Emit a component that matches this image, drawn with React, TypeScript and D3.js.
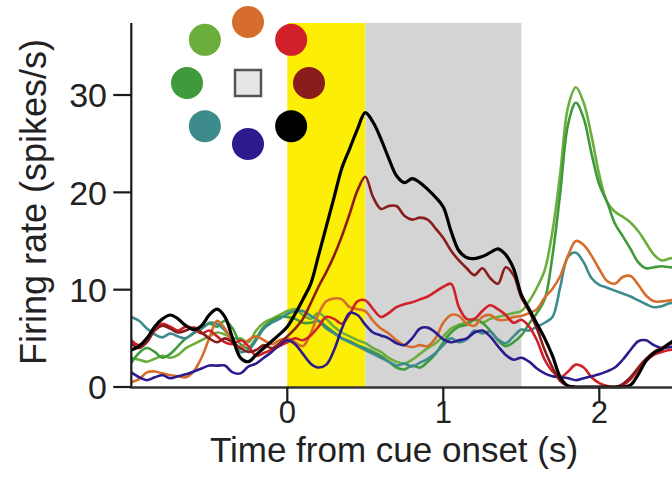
import React from "react";
import * as d3 from "d3";

// time axis (s), one sample every 50 ms
const TIME = [
  -1.0, -0.95, -0.9, -0.85, -0.8, -0.75, -0.7, -0.65, -0.6, -0.55,
  -0.5, -0.45, -0.4, -0.35, -0.3, -0.25, -0.2, -0.15, -0.1, -0.05,
  0.0, 0.05, 0.1, 0.15, 0.2, 0.25, 0.3, 0.35, 0.4, 0.45,
  0.5, 0.55, 0.6, 0.65, 0.7, 0.75, 0.8, 0.85, 0.9, 0.95,
  1.0, 1.05, 1.1, 1.15, 1.2, 1.25, 1.3, 1.35, 1.4, 1.45,
  1.5, 1.55, 1.6, 1.65, 1.7, 1.75, 1.8, 1.85, 1.9, 1.95,
  2.0, 2.05, 2.1, 2.15, 2.2, 2.25, 2.3, 2.35, 2.4, 2.45,
  2.5,
];

const FR_LIGHTGREEN = [
  3.0, 2.8, 2.6, 2.9, 3.2, 3.0, 3.3, 4.0, 4.4, 4.8,
  5.2, 5.6, 5.4, 5.0, 5.0, 4.6, 5.8, 6.6, 7.0, 7.4,
  7.8, 8.0, 7.4, 7.0, 7.6, 7.0, 6.2, 5.6, 5.2, 4.8,
  4.5, 4.0, 3.6, 3.0, 2.6, 2.4, 2.8, 3.4, 4.0, 4.5,
  5.2, 6.0, 6.4, 6.6, 7.0, 6.6, 7.0, 7.2, 7.4, 7.6,
  7.8, 8.8, 10.2, 12.0, 16.0, 22.0, 28.8, 30.8, 29.2, 25.8,
  21.8, 19.0, 18.0, 17.5, 16.9, 16.0, 14.8, 13.6, 13.0, 13.2,
  13.3,
];

const FR_GREEN = [
  2.5, 3.5, 4.0, 3.6, 3.0, 3.4, 4.2, 5.0, 5.5, 6.0,
  6.5, 6.2, 6.8, 6.0, 4.4, 4.0, 5.0, 6.2, 6.8, 7.2,
  7.2, 7.0, 6.6, 6.6, 6.8, 6.2, 5.6, 5.0, 4.7, 4.3,
  4.0, 3.6, 3.2, 2.6, 2.0, 1.8, 2.2, 2.0, 2.6, 3.4,
  4.6, 5.6, 6.2, 6.4, 6.9, 6.6, 5.8, 4.8, 4.2, 4.6,
  5.3, 6.5, 7.6, 9.0, 13.5, 20.0, 27.0, 29.2, 27.6, 24.0,
  20.8, 19.0, 16.8, 15.5, 14.2, 12.8, 12.2, 12.3, 12.4, 12.3,
  12.3,
];

const FR_TEAL = [
  7.2, 6.8, 6.0, 5.4, 5.1, 5.5, 5.2, 5.0, 5.6, 6.0,
  6.6, 6.5, 5.8, 5.0, 3.6, 3.8, 4.8, 6.0, 6.6, 7.0,
  7.5, 7.8, 7.8, 7.3, 6.8, 6.0, 5.5, 5.0, 4.6, 4.2,
  3.8, 3.4, 3.0, 2.6, 2.2, 2.4, 2.1, 2.5, 2.9, 3.5,
  4.3, 5.0, 4.6, 4.9, 5.8, 5.5, 5.7, 4.9, 4.5, 5.2,
  5.9, 5.8, 6.2, 6.6, 7.2, 10.3, 13.4, 13.8, 12.8, 11.2,
  10.5, 10.2, 9.9, 9.6, 9.3, 8.9, 8.5, 8.2, 8.3, 8.6,
  8.7,
];

const FR_ORANGE = [
  0.5, 0.8, 1.5, 1.6, 1.4, 1.2, 1.1, 1.0, 1.6, 3.0,
  5.0, 6.8, 6.0, 4.5, 4.0, 4.8, 5.2, 4.8, 4.4, 4.8,
  5.0, 4.6, 4.2, 5.5, 7.5, 8.8, 9.1, 9.0, 8.2, 8.0,
  7.8, 6.8, 6.0, 5.5, 4.8, 4.3, 4.1, 4.3, 4.2, 5.0,
  6.6, 7.4, 7.3, 6.5, 6.3, 7.2, 7.4, 6.9, 6.9, 7.2,
  7.3, 7.6, 8.0, 9.2, 10.1, 11.4, 13.5, 15.0, 14.6, 13.5,
  12.1, 10.9, 10.6, 11.3, 11.4, 10.5, 9.4, 8.8, 8.8, 8.9,
  9.0,
];

const FR_RED = [
  4.8, 4.3, 5.0, 6.0, 6.5, 6.2, 5.8, 6.2, 6.0, 5.5,
  5.8, 5.2, 4.6, 4.4, 4.8, 4.2, 3.2, 3.5, 3.8, 4.2,
  4.6, 5.0, 4.8, 5.3, 6.2, 7.2, 7.0, 6.5, 7.5, 8.8,
  8.9, 8.0, 7.2, 7.6, 8.2, 8.5, 8.7, 9.0, 9.3, 9.8,
  10.3, 10.6, 8.2, 7.0, 7.0, 7.8, 8.4, 8.0, 7.4, 6.6,
  6.9, 6.2, 4.8, 2.8, 1.6, 1.0, 1.6, 2.3, 2.0, 1.0,
  0.4, 0.1, 0.0, 0.2, 0.8, 1.8, 2.7, 3.3, 3.6, 3.8,
  3.9,
];

const FR_NAVY = [
  1.5, 1.0, 0.7, 1.0, 1.2, 0.9, 1.1, 1.3, 1.6, 1.9,
  2.2, 2.2, 2.2, 1.5, 1.4, 2.1, 2.4, 3.0, 3.6, 4.3,
  4.8, 4.4, 3.4, 2.4, 2.0, 2.3, 3.8, 6.0, 7.6, 7.4,
  6.4, 5.6, 5.3, 5.0, 4.5, 4.3, 5.0, 6.0, 6.1, 5.6,
  4.9, 4.6, 4.8, 5.0, 5.6, 5.8, 5.2, 4.2, 3.3, 2.8,
  3.0, 2.6, 1.9, 1.4, 1.1, 1.0, 0.9, 0.7, 0.9, 1.1,
  1.3, 1.6, 2.0, 2.8, 3.8, 4.7, 4.8, 4.3, 4.0, 4.1,
  4.2,
];

const FR_MAROON = [
  4.5, 4.0, 4.6, 5.8, 6.3, 6.0, 5.6, 5.8, 6.1, 5.6,
  5.0, 4.6, 5.0, 4.6, 4.0, 3.6, 3.8, 4.3, 4.0, 4.5,
  5.2, 6.0, 7.0, 8.6, 10.3, 11.8, 13.5, 15.5, 17.8, 20.2,
  21.6, 19.5, 18.3, 18.6, 18.6, 17.6, 17.2, 17.4, 17.2, 16.3,
  15.3, 14.0, 13.0, 12.2, 11.5, 12.2, 11.2, 10.6, 12.3, 11.5,
  9.2, 7.8, 6.0, 3.8, 2.0, 0.6, 0.1, 0.0, 0.0, 0.0,
  0.0, 0.0, 0.0, 0.3, 1.0, 2.0, 2.9, 3.6, 4.0, 4.4,
  4.6,
];

const FR_BLACK = [
  3.8, 4.2, 5.0, 6.2, 7.0, 7.4, 7.0, 6.3, 5.9, 6.3,
  7.4, 8.0, 7.2, 5.0, 3.0, 2.6, 3.3, 4.0, 4.7, 5.4,
  6.2, 7.5, 9.0, 10.6, 13.5, 16.5, 19.5, 22.5, 24.5, 26.5,
  28.2, 27.2, 25.5, 23.5, 21.7, 21.0, 21.4, 21.0, 20.3, 19.5,
  18.5, 16.0, 14.0, 13.3, 13.2, 13.4, 13.8, 14.2, 13.6, 12.2,
  9.5, 8.0, 6.5, 5.0, 3.2, 1.0, 0.1, 0.0, 0.0, 0.0,
  0.0, 0.0, 0.0, 0.0, 0.2, 1.3, 2.7, 3.5, 3.9, 4.5,
  5.0,
];

const SERIES_NAMES = ["lightgreen", "green", "teal", "orange", "red", "navy", "maroon", "black"];
const SERIES_COLORS = ["#6cae3c", "#3e9a3a", "#3d8b8b", "#d66d2c", "#d1202a", "#2b1b8e", "#8a1c1c", "#000000"];
const SERIES_VALUES = [FR_LIGHTGREEN, FR_GREEN, FR_TEAL, FR_ORANGE, FR_RED, FR_NAVY, FR_MAROON, FR_BLACK];

// target-direction legend (angle in degrees, counter-clockwise from right)
const LEGEND_ANGLES = [90, 45, 0, -45, -90, -135, 180, 135];
const LEGEND_COLORS = ["#d66d2c", "#d1202a", "#8a1c1c", "#000000", "#2b1b8e", "#3d8b8b", "#3e9a3a", "#6cae3c"];

const X_TICKS = [0, 1, 2];
const Y_TICKS = [0, 10, 20, 30];
const CUE_PERIOD = [0, 0.5];
const DELAY_PERIOD = [0.5, 1.5];

const W = 672;
const H = 493;
const FONT = "'Liberation Sans', Arial, Helvetica, sans-serif";

export default function App() {
  const x = d3.scaleLinear().domain([-1, 2.5]).range([131.3, 131.3 + 3.5 * 156]);
  const y = d3.scaleLinear().domain([0, 37.4]).range([387, 23]);
  const line = d3
    .line<number>()
    .x((_, i) => x(TIME[i]))
    .y((v) => y(v))
    .curve(d3.curveCatmullRom.alpha(0.5));

  const left = x(-1);
  const bottom = y(0);
  const top = y(37.4);

  const lcx = 248;
  const lcy = 83;
  const ringR = 61;

  return (
    <svg
      width={W}
      height={H}
      style={{ position: "absolute", left: 0, top: 0, background: "#fff" }}
      fontFamily={FONT}
    >
      <defs>
        <clipPath id="plot">
          <rect x={left} y={0} width={W - left} height={bottom + 1.5} />
        </clipPath>
      </defs>
      <rect x={0} y={0} width={W} height={H} fill="#fff" />
      {/* epochs */}
      <rect
        x={x(CUE_PERIOD[0])}
        y={top}
        width={x(CUE_PERIOD[1]) - x(CUE_PERIOD[0])}
        height={bottom - top}
        fill="#fdee05"
      />
      <rect
        x={x(DELAY_PERIOD[0])}
        y={top}
        width={x(DELAY_PERIOD[1]) - x(DELAY_PERIOD[0])}
        height={bottom - top}
        fill="#d4d4d4"
      />
      {/* traces */}
      <g clipPath="url(#plot)" fill="none" strokeLinejoin="round" strokeLinecap="round">
        {SERIES_VALUES.map((vals, k) => (
          <path
            key={SERIES_NAMES[k]}
            d={line(vals) || ""}
            stroke={SERIES_COLORS[k]}
            strokeWidth={SERIES_NAMES[k] === "black" ? 3.2 : 2.6}
          />
        ))}
      </g>
      {/* legend ring */}
      <g>
        {LEGEND_ANGLES.map((a, k) => {
          const r = (a * Math.PI) / 180;
          return (
            <circle
              key={k}
              cx={lcx + ringR * Math.cos(r)}
              cy={lcy - ringR * Math.sin(r)}
              r={16}
              fill={LEGEND_COLORS[k]}
            />
          );
        })}
        <rect x={lcx - 13} y={lcy - 13} width={26} height={26} fill="#e6e6e6" stroke="#555" strokeWidth={2.5} />
      </g>
      {/* axes */}
      <line x1={left} x2={left} y1={top} y2={bottom + 1} stroke="#1a1a1a" strokeWidth={2.2} />
      <line x1={left - 1} x2={W} y1={bottom + 0.5} y2={bottom + 0.5} stroke="#333" strokeWidth={2.5} />
      {Y_TICKS.map((t) => (
        <g key={"y" + t}>
          <line x1={left - 18} x2={left} y1={y(t)} y2={y(t)} stroke="#1a1a1a" strokeWidth={2.2} />
          <text x={107} y={y(t)} dy="0.36em" textAnchor="end" fontSize={34} fill="#222">
            {t}
          </text>
        </g>
      ))}
      {X_TICKS.map((t) => (
        <g key={"x" + t}>
          <line x1={x(t)} x2={x(t)} y1={bottom} y2={bottom + 16} stroke="#1a1a1a" strokeWidth={2.2} />
          <text x={x(t)} y={423} textAnchor="middle" fontSize={31} fill="#222">
            {t}
          </text>
        </g>
      ))}
      <text x={394} y={462} textAnchor="middle" fontSize={35} fill="#222">
        Time from cue onset (s)
      </text>
      <text
        transform={`translate(46, 202) rotate(-90)`}
        textAnchor="middle"
        fontSize={36}
        fill="#222"
      >
        Firing rate (spikes/s)
      </text>
    </svg>
  );
}
